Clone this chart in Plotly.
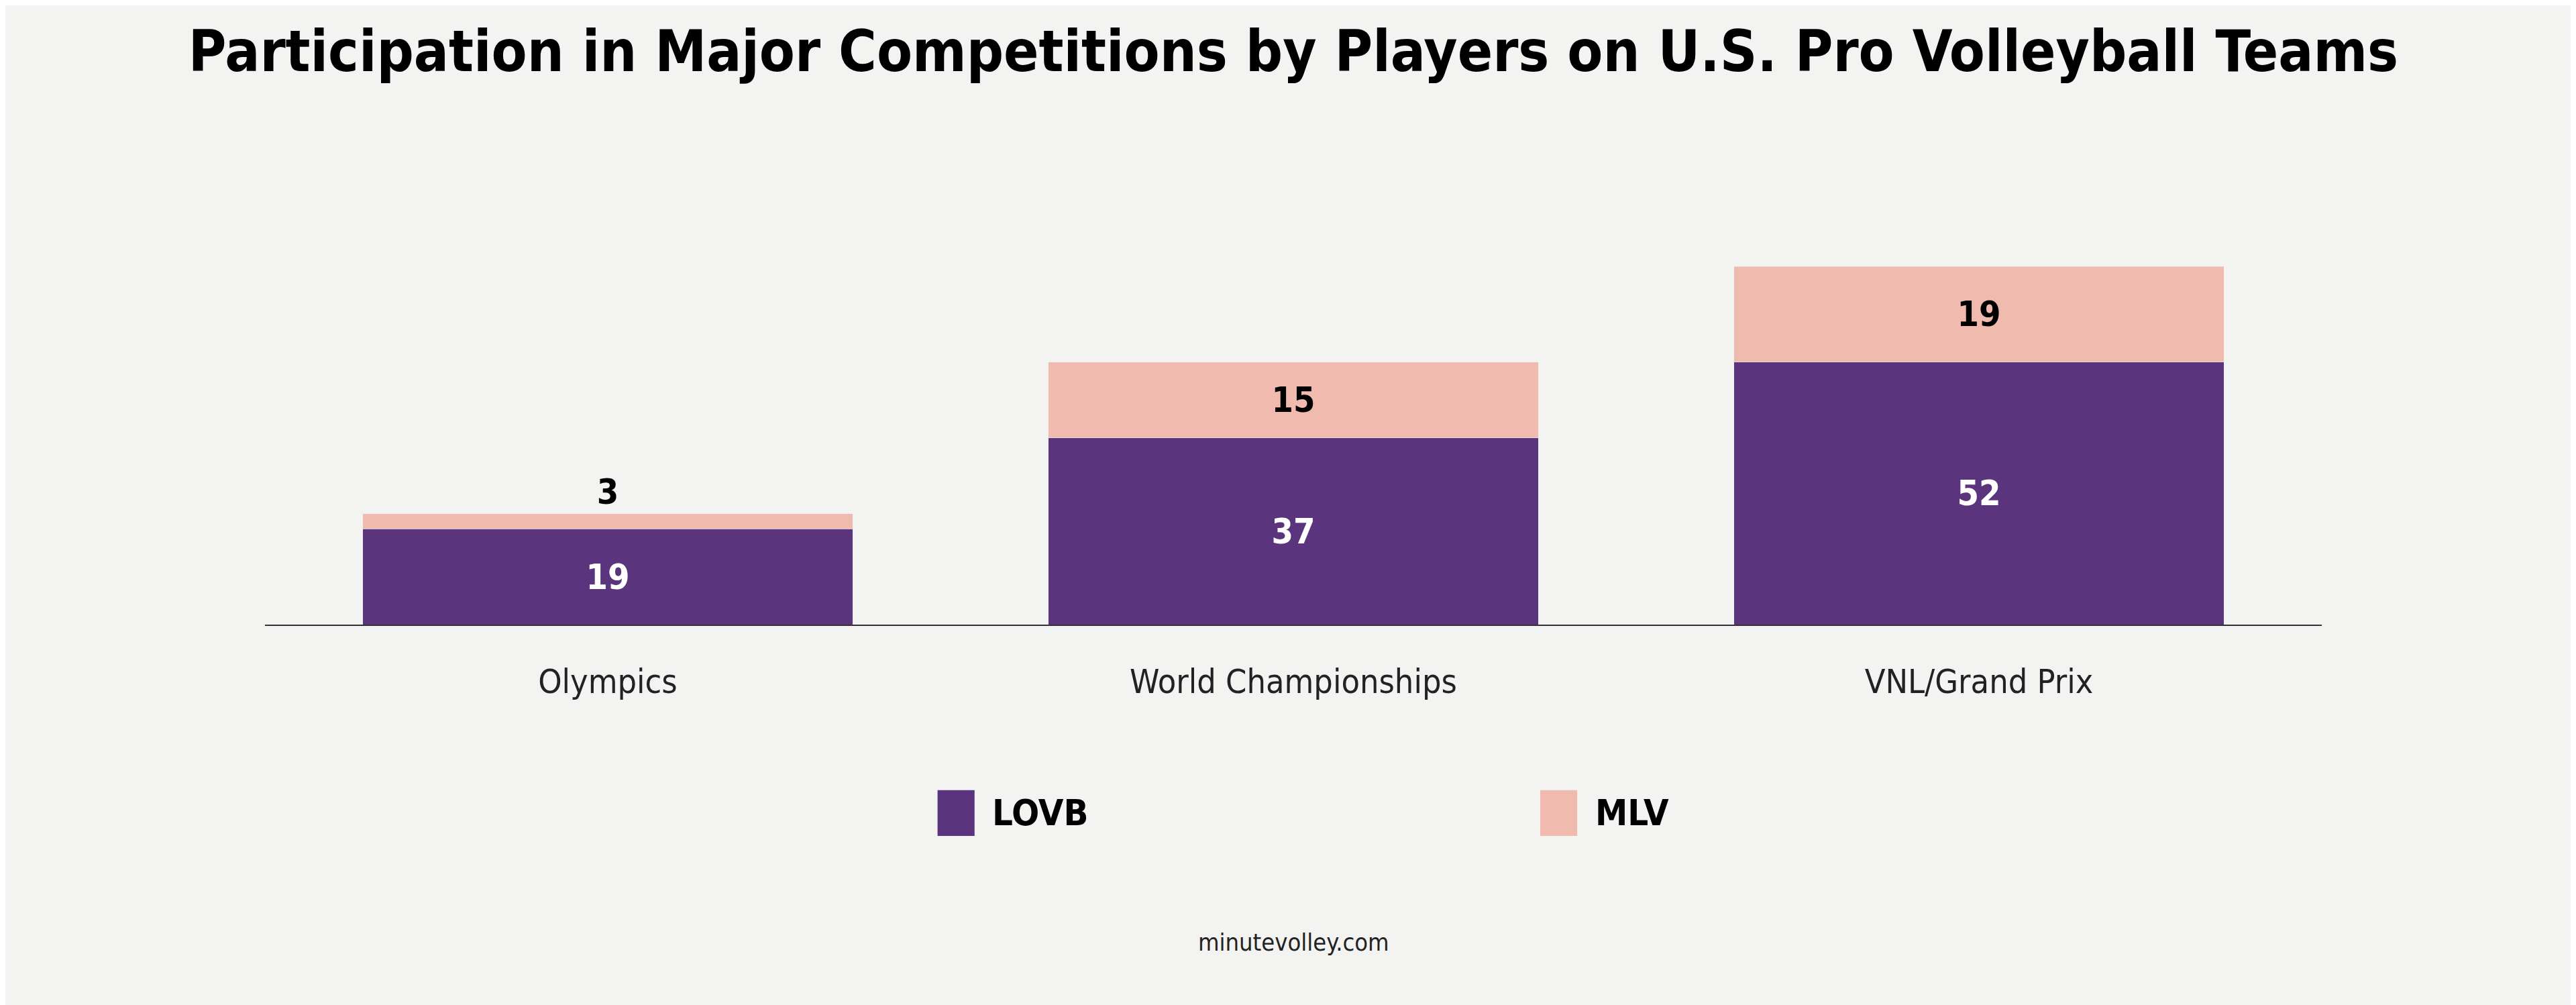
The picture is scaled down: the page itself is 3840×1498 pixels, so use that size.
import plotly.graph_objects as go

categories = ["Olympics", "World Championships", "VNL/Grand Prix"]
lovb = [19, 37, 52]
mlv = [3, 15, 19]
series_names = ["LOVB", "MLV"]

PURPLE = "#5a357d"
PINK = "#f0bbae"
BG = "#f3f4f2"
FONT = "DejaVu Sans Condensed"

fig = go.Figure()
fig.add_trace(go.Bar(
    x=categories, y=lovb, name=series_names[0], marker_color=PURPLE,
    text=lovb, textposition="inside", insidetextanchor="middle",
    textfont=dict(family=FONT, size=52, color="white", weight="bold"),
    showlegend=False,
))
fig.add_trace(go.Bar(
    x=categories, y=mlv, name=series_names[1], marker_color=PINK,
    text=mlv, textposition=["outside", "inside", "inside"], insidetextanchor="middle",
    textfont=dict(family=FONT, size=52, color="black", weight="bold"),
    outsidetextfont=dict(family=FONT, size=52, color="black", weight="bold"),
    cliponaxis=False, showlegend=False,
))

fig.update_layout(
    width=3840, height=1498,
    barmode="stack", bargap=0.285,
    paper_bgcolor=BG, plot_bgcolor=BG,
    margin=dict(l=387, r=387, t=389, b=575),
    title=dict(
        text="<b>Participation in Major Competitions by Players on U.S. Pro Volleyball Teams</b>",
        x=0.5, y=0.955, xanchor="center", yanchor="middle",
        font=dict(family=FONT, size=86, color="black"),
    ),
    xaxis=dict(
        showline=True, linecolor="#333", linewidth=2, ticks="",
        tickfont=dict(family=FONT, size=50, color="#222"),
        ticklabelstandoff=40,
    ),
    yaxis=dict(visible=False, range=[0, 71]),
)

# legend drawn manually for large square swatches
for i, (name, color) in enumerate(zip(series_names, [PURPLE, PINK])):
    x0 = 0.327 + i * 0.293
    fig.add_shape(type="rect", xref="paper", yref="paper",
                  x0=x0, x1=x0 + 0.018, y0=-0.59, y1=-0.462,
                  fillcolor=color, line_width=0)
    fig.add_annotation(text=f"<b>{name}</b>", xref="paper", yref="paper",
                       x=x0 + 0.026, y=-0.526, xanchor="left", yanchor="middle",
                       showarrow=False, font=dict(family=FONT, size=54, color="black"))

fig.add_annotation(text="minutevolley.com", xref="paper", yref="paper",
                   x=0.5, y=-0.886, xanchor="center", yanchor="middle", showarrow=False,
                   font=dict(family=FONT, size=36, color="#222"))

fig.write_html("out.html")
